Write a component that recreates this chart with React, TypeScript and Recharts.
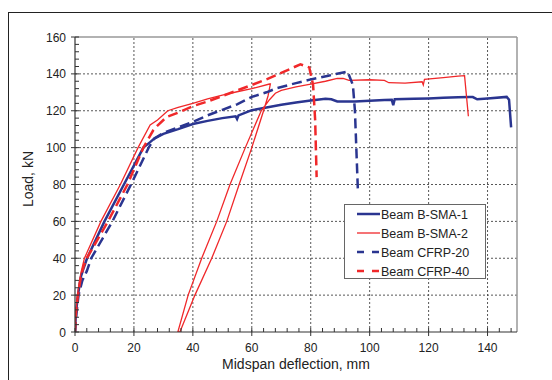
import { LineChart, Line, XAxis, YAxis, ReferenceLine, Legend } from 'recharts'

// Beam B-SMA-1 (solid navy)
const SMA1_X = [0, 0.3, 1, 2, 3, 4.1, 10, 16.6, 23.2, 25.5, 27, 30, 35, 40, 45, 50, 54.5, 55, 55.5, 60, 65, 70, 75, 80, 85, 87, 89, 95, 100, 105, 107.5, 108, 108.5, 115, 120, 125, 130, 134, 135, 136.5, 140, 146.5, 147.3, 148]
const SMA1_Y = [0, 10, 20, 30, 35, 40, 60, 80, 100, 103, 105, 107.5, 110, 112.8, 114.5, 116, 117, 115.5, 117.5, 120.3, 121.8, 123.2, 124.5, 125.5, 126.5, 126.2, 125, 125, 125.4, 125.8, 126, 123, 126.2, 126.5, 126.7, 127, 127.3, 127.5, 127.4, 126.2, 126.6, 127.5, 126, 111]

// Beam B-SMA-2 (solid red): envelope, unload to 35.6 mm, reload from 34.9 mm
const SMA2_X = [0, 0.3, 1, 2, 3.2, 8.8, 15.4, 21.4, 25.5, 28, 31.5, 35, 40, 45, 50, 55, 60, 66, 66.3, 65.5, 64, 60, 55.7, 51.5, 46.4, 40.7, 35.6, 34.9, 38.4, 43, 48.1, 52.6, 57.8, 63.2, 66, 68, 70, 75, 80, 85, 89, 91, 93, 100, 105, 106.5, 112, 117.8, 118.2, 118.6, 125, 130, 132.2, 133.5]
const SMA2_Y = [0, 10, 22, 32, 40, 60, 80, 100, 112.3, 115, 120, 121.8, 124, 126.5, 128.5, 130.3, 132, 134.5, 134.5, 128, 120, 100, 80, 60, 40, 20, 0, 0, 20, 40, 60, 80, 100, 120, 126, 129.5, 131, 133, 134.5, 136, 137.5, 137.5, 136.5, 136.8, 136.5, 135.2, 135, 135.7, 134, 137, 138, 138.8, 139, 117]

// Beam CFRP-20 (dashed navy)
const CFRP20_X = [0, 0.5, 1.2, 2.5, 4, 5.5, 12.7, 19, 25, 27, 30, 35, 40, 45, 50, 55, 60, 65, 68.6, 75, 80, 86, 92.5, 94.3, 95, 96]
const CFRP20_Y = [0, 10, 20, 28, 33, 40, 60, 80, 100, 105, 108, 111, 114, 117.5, 120.5, 123.5, 127.5, 130, 132.3, 135, 137, 139, 141.3, 134, 120, 77]

// Beam CFRP-40 (dashed red)
const CFRP40_X = [0, 0.3, 1, 2, 3, 4, 11.2, 17.8, 23.2, 26.6, 28, 31, 35, 40, 45, 50, 55, 60, 65, 70, 76.5, 79.5, 80.8, 81.5, 82]
const CFRP40_Y = [0, 10, 20, 30, 36, 40, 60, 80, 100, 109.5, 112, 116.5, 119, 122.5, 125, 128, 131, 134, 137, 140.5, 145.2, 143.5, 134, 115, 84]

const NAMES = ['Beam B-SMA-1', 'Beam B-SMA-2', 'Beam CFRP-20', 'Beam CFRP-40']

const X_MAJOR = [0, 20, 40, 60, 80, 100, 120, 140]
const Y_MAJOR = [0, 20, 40, 60, 80, 100, 120, 140, 160]
const X_GRID = [20, 40, 60, 80, 100, 120, 140]
const Y_GRID = [20, 40, 60, 80, 100, 120, 140]
const MINOR_STEP = 4

const NAVY = '#2a3590'
const RED = '#f0282a'

const X_TICKS = Array.from({ length: 38 }, (_, i) => i * MINOR_STEP)
const Y_TICKS = Array.from({ length: 41 }, (_, i) => i * MINOR_STEP)

const zip = (xs: number[], ys: number[]) => xs.map((x, i) => ({ x, y: ys[i] }))

const SERIES = [
  { name: NAMES[0], data: zip(SMA1_X, SMA1_Y), color: NAVY, width: 2.5, dash: undefined },
  { name: NAMES[1], data: zip(SMA2_X, SMA2_Y), color: RED, width: 1.3, dash: undefined },
  { name: NAMES[2], data: zip(CFRP20_X, CFRP20_Y), color: NAVY, width: 2.5, dash: '10 5' },
  { name: NAMES[3], data: zip(CFRP40_X, CFRP40_Y), color: RED, width: 2.5, dash: '10 5' },
]

const AXIS = '#333'

function XTick({ x, y, payload }: any) {
  const v = payload.value
  if (!X_MAJOR.includes(v)) {
    return <line x1={x} x2={x} y1={y - 4} y2={y} stroke={AXIS} strokeWidth={1} />
  }
  return (
    <g>
      <line x1={x} x2={x} y1={y - 4} y2={y + 4} stroke={AXIS} strokeWidth={1} />
      <text x={x} y={y + 19.5} textAnchor="middle" fontSize={12} fill="#222">{v}</text>
    </g>
  )
}

function YTick({ x, y, payload }: any) {
  const v = payload.value
  if (!Y_MAJOR.includes(v)) {
    return <line x1={x} x2={x + 4} y1={y} y2={y} stroke={AXIS} strokeWidth={1} />
  }
  return (
    <g>
      <line x1={x - 4} x2={x + 4} y1={y} y2={y} stroke={AXIS} strokeWidth={1} />
      <text x={x - 9} y={y + 4.5} textAnchor="end" fontSize={12} fill="#222">{v}</text>
    </g>
  )
}

const xTitle = ({ viewBox }: any) => (
  <text x={viewBox.x + viewBox.width / 2} y={viewBox.y + 37} textAnchor="middle" fontSize={14} fill="#222">
    Midspan deflection, mm
  </text>
)

const yTitle = ({ viewBox }: any) => {
  const cx = viewBox.x + 8
  const cy = viewBox.y + viewBox.height / 2 - 5.5
  return (
    <text x={cx} y={cy} transform={`rotate(-90, ${cx}, ${cy})`} textAnchor="middle" fontSize={14} fill="#222">
      Load, kN
    </text>
  )
}

function LegendBox() {
  return (
    <div style={{ width: 142, height: 75, border: '1px solid #666', background: '#fff', boxSizing: 'border-box' }}>
      <svg width={140} height={73} style={{ display: 'block' }}>
        {SERIES.map((s, i) => {
          const cy = 9 + i * 19
          return (
            <g key={s.name}>
              <line x1={12} x2={35} y1={cy} y2={cy} stroke={s.color} strokeWidth={s.width} strokeDasharray={s.dash ? '7 8' : undefined} />
              <text x={36} y={cy + 4.5} fontSize={12.5} fill="#222">{s.name}</text>
            </g>
          )
        })}
      </svg>
    </div>
  )
}

export default function App() {
  return (
    <div style={{
      position: 'fixed', left: 0, top: 0, width: 552, height: 380, overflow: 'hidden',
      background: '#fff', fontFamily: '"Liberation Sans", Arial, sans-serif',
    }}>
      {/* outer figure frame */}
      <div style={{
        position: 'absolute', left: 8, top: 12, width: 600, height: 400,
        borderLeft: '1.5px solid #222', borderTop: '1.5px solid #222',
      }} />
      <div style={{ position: 'absolute', left: 0, top: 0 }}>
        <LineChart width={552} height={380} margin={{ top: 37, right: 35, bottom: 8, left: 25 }}>
          <XAxis
            dataKey="x"
            type="number"
            domain={[0, 150]}
            ticks={X_TICKS}
            interval={0}
            tick={<XTick />}
            tickSize={0}
            tickMargin={0}
            tickLine={false}
            axisLine={{ stroke: AXIS, strokeWidth: 1.2 }}
            height={40}
            allowDataOverflow
            label={xTitle}
          />
          <YAxis
            type="number"
            domain={[0, 160]}
            ticks={Y_TICKS}
            interval={0}
            tick={<YTick />}
            tickSize={0}
            tickMargin={0}
            tickLine={false}
            axisLine={{ stroke: AXIS, strokeWidth: 1.2 }}
            width={50}
            allowDataOverflow
            label={yTitle}
          />
          {X_GRID.map(v => (
            <ReferenceLine key={`gx${v}`} x={v} stroke="#444" strokeWidth={0.9} strokeDasharray="2 2" />
          ))}
          {Y_GRID.map(v => (
            <ReferenceLine key={`gy${v}`} y={v} stroke="#444" strokeWidth={0.9} strokeDasharray="2 2" />
          ))}
          <ReferenceLine x={150} stroke="#999" strokeWidth={1.5} />
          <ReferenceLine y={160} stroke="#999" strokeWidth={1.5} />
          {SERIES.map(s => (
            <Line
              key={s.name}
              data={s.data}
              dataKey="y"
              name={s.name}
              type="linear"
              stroke={s.color}
              strokeWidth={s.width}
              strokeDasharray={s.dash}
              dot={false}
              activeDot={false}
              isAnimationActive={false}
            />
          ))}
          <Legend
            layout="horizontal"
            align="center"
            verticalAlign="middle"
            content={() => <LegendBox />}
            wrapperStyle={{ left: 344, top: 204, width: 142, height: 75 }}
          />
        </LineChart>
      </div>
    </div>
  )
}
